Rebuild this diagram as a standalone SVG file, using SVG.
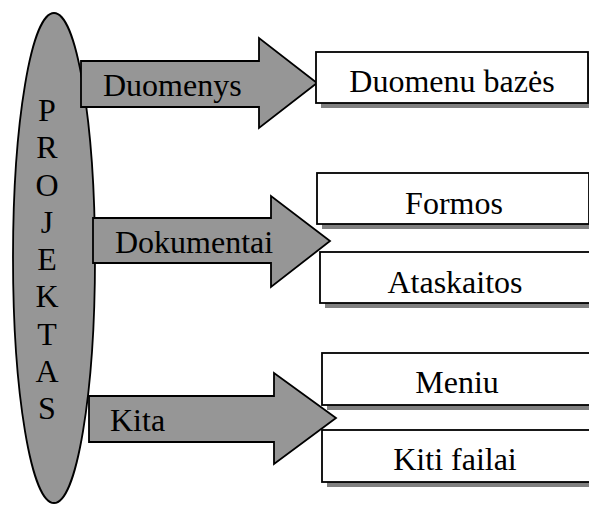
<svg xmlns="http://www.w3.org/2000/svg" width="589" height="505" viewBox="0 0 589 505">
<style>
.shape{fill:#969696;stroke:#000;stroke-width:1.8;stroke-linejoin:miter}
.box{fill:#fff;stroke:#000;stroke-width:1.8}
.shadow{fill:#808080;stroke:none}
text{font-family:"Liberation Serif","Times New Roman",serif;font-size:32px;fill:#000}
.c{text-anchor:middle}
</style>
<rect width="589" height="505" fill="#fff"/>
<g id="projektas">
<ellipse class="shape" cx="54" cy="258" rx="41" ry="245"/>
<text class="c" x="47" y="121">P</text>
<text class="c" x="47" y="158">R</text>
<text class="c" x="47" y="196">O</text>
<text class="c" x="47" y="233">J</text>
<text class="c" x="47" y="270">E</text>
<text class="c" x="47" y="307">K</text>
<text class="c" x="47" y="345">T</text>
<text class="c" x="47" y="382">A</text>
<text class="c" x="47" y="419">S</text>
</g>
<g id="connectors">
<g id="arrow-duomenys">
<polygon class="shape" points="81,61 259,61 259,38 317,83 259,128 259,107 81,107"/>
<text x="103" y="96">Duomenys</text>
</g>
<g id="arrow-dokumentai">
<polygon class="shape" points="93,218 271,218 271,196 330,241 271,287 271,263 93,263"/>
<text x="115" y="253">Dokumentai</text>
</g>
<g id="arrow-kita">
<polygon class="shape" points="89,396 274,396 274,373 336,418 274,464 274,442 89,442"/>
<text x="110" y="431">Kita</text>
</g>
</g>
<g id="duomenu-bazes">
<rect class="shadow" x="321" y="57" width="272" height="51"/>
<rect class="box" x="316" y="52" width="272" height="51"/>
<text class="c" x="452" y="92">Duomenu bazės</text>
</g>
<g id="formos">
<rect class="shadow" x="322" y="178" width="272" height="51"/>
<rect class="box" x="317" y="173" width="272" height="51"/>
<text class="c" x="454" y="214">Formos</text>
</g>
<g id="ataskaitos">
<rect class="shadow" x="325" y="257" width="272" height="51"/>
<rect class="box" x="320" y="252" width="272" height="51"/>
<text class="c" x="455" y="293">Ataskaitos</text>
</g>
<g id="meniu">
<rect class="shadow" x="327" y="358" width="272" height="52"/>
<rect class="box" x="322" y="353" width="272" height="52"/>
<text class="c" x="457" y="393">Meniu</text>
</g>
<g id="kiti-failai">
<rect class="shadow" x="327" y="435" width="272" height="52"/>
<rect class="box" x="322" y="430" width="272" height="52"/>
<text class="c" x="455" y="470">Kiti failai</text>
</g>
</svg>
